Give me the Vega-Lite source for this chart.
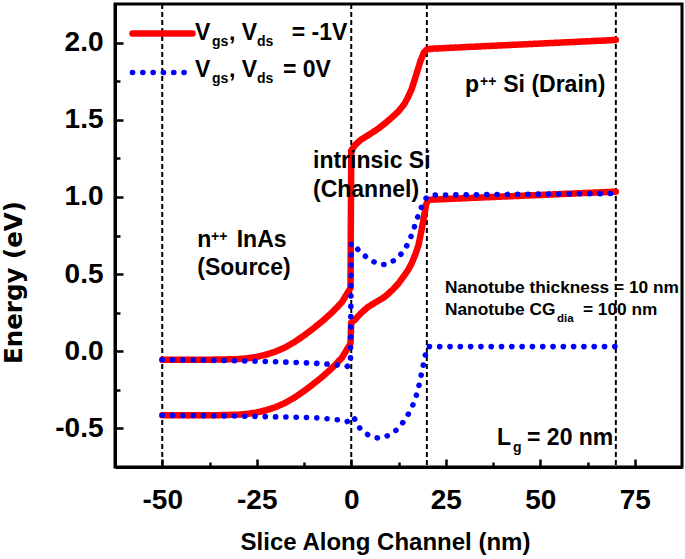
{
  "$schema": "https://vega.github.io/schema/vega-lite/v6.json",
  "width": 567,
  "height": 463,
  "autosize": "none",
  "padding": {"left": 115, "top": 4, "right": 3, "bottom": 92},
  "background": "white",
  "config": {
    "view": {"stroke": "black", "strokeWidth": 3},
    "font": "Liberation Sans",
    "axis": {
      "domainColor": "black", "domainWidth": 3, "tickColor": "black", "tickWidth": 2.5,
      "grid": false, "labelFont": "Liberation Sans", "labelFontWeight": "bold", "labelColor": "black",
      "titleFont": "Liberation Sans", "titleFontWeight": "bold", "titleColor": "black"
    },
    "text": {"font": "Liberation Sans", "fontWeight": "bold", "color": "black", "align": "left", "baseline": "alphabetic"}
  },
  "resolve": {"axis": {"x": "independent", "y": "independent"}},
  "layer": [
    {
      "data": {"values": [{"x": -50}, {"x": 0}, {"x": 20}, {"x": 70}]},
      "mark": {"type": "rule", "color": "black", "strokeWidth": 2, "strokeDash": [5, 3]},
      "encoding": {
        "x": {"field": "x", "type": "quantitative", "scale": {"domain": [-62.5, 87.5], "nice": false, "zero": false},
          "axis": {"orient": "bottom", "values": [-37.5, -12.5, 12.5, 37.5, 62.5], "labels": false, "domain": false, "tickSize": -5, "title": null}}
      }
    },
    {
      "data": {"values": [
        {"s": "-1V", "b": "c", "x": -50, "y": -0.055}, {"s": "-1V", "b": "c", "x": -40, "y": -0.055}, {"s": "-1V", "b": "c", "x": -35, "y": -0.054},
        {"s": "-1V", "b": "c", "x": -30, "y": -0.051}, {"s": "-1V", "b": "c", "x": -27.5, "y": -0.046}, {"s": "-1V", "b": "c", "x": -25, "y": -0.037},
        {"s": "-1V", "b": "c", "x": -22.5, "y": -0.022}, {"s": "-1V", "b": "c", "x": -20, "y": -0.002}, {"s": "-1V", "b": "c", "x": -17.5, "y": 0.025},
        {"s": "-1V", "b": "c", "x": -15, "y": 0.06}, {"s": "-1V", "b": "c", "x": -12.5, "y": 0.102}, {"s": "-1V", "b": "c", "x": -10, "y": 0.148},
        {"s": "-1V", "b": "c", "x": -7.5, "y": 0.198}, {"s": "-1V", "b": "c", "x": -5, "y": 0.253}, {"s": "-1V", "b": "c", "x": -2.5, "y": 0.317},
        {"s": "-1V", "b": "c", "x": -0.2, "y": 0.41}, {"s": "-1V", "b": "c", "x": 0, "y": 1.3},
        {"s": "-1V", "b": "c", "x": 1, "y": 1.336}, {"s": "-1V", "b": "c", "x": 2.5, "y": 1.37}, {"s": "-1V", "b": "c", "x": 4.5, "y": 1.4},
        {"s": "-1V", "b": "c", "x": 7, "y": 1.44}, {"s": "-1V", "b": "c", "x": 9, "y": 1.478}, {"s": "-1V", "b": "c", "x": 11, "y": 1.52},
        {"s": "-1V", "b": "c", "x": 12.5, "y": 1.555}, {"s": "-1V", "b": "c", "x": 14, "y": 1.6}, {"s": "-1V", "b": "c", "x": 15, "y": 1.645},
        {"s": "-1V", "b": "c", "x": 16, "y": 1.7}, {"s": "-1V", "b": "c", "x": 17.3, "y": 1.8}, {"s": "-1V", "b": "c", "x": 18.3, "y": 1.88},
        {"s": "-1V", "b": "c", "x": 19.2, "y": 1.935}, {"s": "-1V", "b": "c", "x": 20, "y": 1.955}, {"s": "-1V", "b": "c", "x": 21, "y": 1.96},
        {"s": "-1V", "b": "c", "x": 70, "y": 2.017},
        {"s": "-1V", "b": "v", "x": -50, "y": -0.415}, {"s": "-1V", "b": "v", "x": -40, "y": -0.415}, {"s": "-1V", "b": "v", "x": -35, "y": -0.414},
        {"s": "-1V", "b": "v", "x": -30, "y": -0.411}, {"s": "-1V", "b": "v", "x": -27.5, "y": -0.406}, {"s": "-1V", "b": "v", "x": -25, "y": -0.397},
        {"s": "-1V", "b": "v", "x": -22.5, "y": -0.382}, {"s": "-1V", "b": "v", "x": -20, "y": -0.362}, {"s": "-1V", "b": "v", "x": -17.5, "y": -0.335},
        {"s": "-1V", "b": "v", "x": -15, "y": -0.3}, {"s": "-1V", "b": "v", "x": -12.5, "y": -0.258}, {"s": "-1V", "b": "v", "x": -10, "y": -0.212},
        {"s": "-1V", "b": "v", "x": -7.5, "y": -0.162}, {"s": "-1V", "b": "v", "x": -5, "y": -0.107}, {"s": "-1V", "b": "v", "x": -2.5, "y": -0.043},
        {"s": "-1V", "b": "v", "x": -0.2, "y": 0.05}, {"s": "-1V", "b": "v", "x": 0, "y": 0.185},
        {"s": "-1V", "b": "v", "x": 1, "y": 0.205}, {"s": "-1V", "b": "v", "x": 2.5, "y": 0.245}, {"s": "-1V", "b": "v", "x": 4.5, "y": 0.288},
        {"s": "-1V", "b": "v", "x": 7, "y": 0.325}, {"s": "-1V", "b": "v", "x": 9, "y": 0.355}, {"s": "-1V", "b": "v", "x": 11, "y": 0.4},
        {"s": "-1V", "b": "v", "x": 12.5, "y": 0.44}, {"s": "-1V", "b": "v", "x": 14, "y": 0.49}, {"s": "-1V", "b": "v", "x": 15, "y": 0.525},
        {"s": "-1V", "b": "v", "x": 16, "y": 0.57}, {"s": "-1V", "b": "v", "x": 17, "y": 0.63}, {"s": "-1V", "b": "v", "x": 17.8, "y": 0.69},
        {"s": "-1V", "b": "v", "x": 18.6, "y": 0.785}, {"s": "-1V", "b": "v", "x": 19.3, "y": 0.88}, {"s": "-1V", "b": "v", "x": 19.8, "y": 0.95},
        {"s": "-1V", "b": "v", "x": 20.3, "y": 0.978}, {"s": "-1V", "b": "v", "x": 21, "y": 0.982}, {"s": "-1V", "b": "v", "x": 70, "y": 1.034},
        {"s": "0V", "b": "c", "x": -50, "y": -0.055}, {"s": "0V", "b": "c", "x": -40, "y": -0.057}, {"s": "0V", "b": "c", "x": -30, "y": -0.062},
        {"s": "0V", "b": "c", "x": -20, "y": -0.068}, {"s": "0V", "b": "c", "x": -10, "y": -0.077}, {"s": "0V", "b": "c", "x": -5, "y": -0.085},
        {"s": "0V", "b": "c", "x": -2.5, "y": -0.092}, {"s": "0V", "b": "c", "x": -1.2, "y": -0.1}, {"s": "0V", "b": "c", "x": -0.2, "y": -0.085},
        {"s": "0V", "b": "c", "x": 0, "y": 0.7}, {"s": "0V", "b": "c", "x": 1, "y": 0.68}, {"s": "0V", "b": "c", "x": 2.3, "y": 0.645},
        {"s": "0V", "b": "c", "x": 4.5, "y": 0.6}, {"s": "0V", "b": "c", "x": 6.7, "y": 0.57}, {"s": "0V", "b": "c", "x": 8.5, "y": 0.562},
        {"s": "0V", "b": "c", "x": 9.4, "y": 0.563}, {"s": "0V", "b": "c", "x": 11.6, "y": 0.592}, {"s": "0V", "b": "c", "x": 13.8, "y": 0.645},
        {"s": "0V", "b": "c", "x": 15.3, "y": 0.71}, {"s": "0V", "b": "c", "x": 16.5, "y": 0.79}, {"s": "0V", "b": "c", "x": 17.5, "y": 0.865},
        {"s": "0V", "b": "c", "x": 18.6, "y": 0.935}, {"s": "0V", "b": "c", "x": 19.4, "y": 0.975}, {"s": "0V", "b": "c", "x": 20, "y": 1.0},
        {"s": "0V", "b": "c", "x": 21, "y": 1.012}, {"s": "0V", "b": "c", "x": 70, "y": 1.022},
        {"s": "0V", "b": "v", "x": -50, "y": -0.415}, {"s": "0V", "b": "v", "x": -40, "y": -0.417}, {"s": "0V", "b": "v", "x": -30, "y": -0.42},
        {"s": "0V", "b": "v", "x": -20, "y": -0.425}, {"s": "0V", "b": "v", "x": -10, "y": -0.43}, {"s": "0V", "b": "v", "x": -5, "y": -0.44},
        {"s": "0V", "b": "v", "x": -2.5, "y": -0.448}, {"s": "0V", "b": "v", "x": -1.2, "y": -0.457}, {"s": "0V", "b": "v", "x": -0.2, "y": -0.445},
        {"s": "0V", "b": "v", "x": 0.5, "y": -0.425}, {"s": "0V", "b": "v", "x": 1.2, "y": -0.45}, {"s": "0V", "b": "v", "x": 2.3, "y": -0.5},
        {"s": "0V", "b": "v", "x": 4.5, "y": -0.543}, {"s": "0V", "b": "v", "x": 7, "y": -0.562}, {"s": "0V", "b": "v", "x": 9, "y": -0.556},
        {"s": "0V", "b": "v", "x": 12, "y": -0.51}, {"s": "0V", "b": "v", "x": 14.2, "y": -0.446}, {"s": "0V", "b": "v", "x": 15.5, "y": -0.39},
        {"s": "0V", "b": "v", "x": 16.9, "y": -0.316}, {"s": "0V", "b": "v", "x": 18, "y": -0.215}, {"s": "0V", "b": "v", "x": 18.6, "y": -0.143},
        {"s": "0V", "b": "v", "x": 19.4, "y": -0.05}, {"s": "0V", "b": "v", "x": 19.8, "y": 0.0}, {"s": "0V", "b": "v", "x": 20.3, "y": 0.03},
        {"s": "0V", "b": "v", "x": 21, "y": 0.03}, {"s": "0V", "b": "v", "x": 70, "y": 0.03}
      ]},
      "mark": {"type": "line", "strokeCap": "round", "strokeJoin": "round"},
      "encoding": {
        "x": {"field": "x", "type": "quantitative", "scale": {"domain": [-62.5, 87.5], "nice": false, "zero": false},
          "axis": {"orient": "bottom", "values": [-50, -25, 0, 25, 50, 75], "tickSize": -8, "labelPadding": 27, "labelFontSize": 28,
            "labelExpr": "replace(datum.label, '\u2212', '-')",
            "title": "Slice Along Channel (nm)", "titleFontSize": 24, "titleX": 270, "titleY": 82, "titleBaseline": "alphabetic"}},
        "y": {"field": "y", "type": "quantitative", "scale": {"domain": [-0.75, 2.25], "nice": false, "zero": false},
          "axis": {"orient": "left", "values": [-0.5, 0, 0.5, 1, 1.5, 2], "format": ".1f", "tickSize": -8, "labelPadding": 20, "labelFontSize": 28,
            "labelExpr": "replace(datum.label, '\u2212', '-')",
            "title": "Energy (eV)", "titleFont": "DejaVu Sans", "titleFontSize": 24.5, "titleX": -94, "titleY": 278, "titleBaseline": "alphabetic"}},
        "detail": {"field": "b"},
        "color": {"field": "s", "type": "nominal", "scale": {"domain": ["-1V", "0V"], "range": ["#ff0000", "#0000ff"]},
          "legend": {"orient": "none", "legendX": 14, "legendY": 10, "title": null, "symbolType": "stroke", "symbolSize": 3600,
            "labelExpr": "''", "clipHeight": 39, "rowPadding": 0, "padding": 0,
            "encode": {"symbols": {"update": {"strokeCap": {"value": "round"}, "strokeDash": {"signal": "datum.value === '0V' ? [0.1, 8.6] : [1, 0]"}}}}}},
        "strokeDash": {"field": "s", "type": "nominal", "scale": {"domain": ["-1V", "0V"], "range": [[1, 0], [0.1, 10.2]]}},
        "strokeWidth": {"field": "s", "type": "nominal", "scale": {"domain": ["-1V", "0V"], "range": [6.5, 5.6]}}
      }
    },
    {
      "data": {"values": [
        {"t": "intrinsic Si", "x": -10.12, "y": 1.187}, {"t": "(Channel)", "x": -10.12, "y": 1.0},
        {"t": "n", "x": -40.73, "y": 0.677}, {"t": "InAs", "x": -30.3, "y": 0.677}, {"t": "(Source)", "x": -40.73, "y": 0.494},
        {"t": "p", "x": 30.09, "y": 1.682}, {"t": "Si (Drain)", "x": 40.22, "y": 1.682},
        {"t": "L", "x": 38.56, "y": -0.607}, {"t": "= 20 nm", "x": 46.5, "y": -0.607},
        {"t": "V", "x": -41.34, "y": 2.017}, {"t": ", V", "x": -32.34, "y": 2.017}, {"t": "= -1V", "x": -15.75, "y": 2.017},
        {"t": "V", "x": -41.34, "y": 1.777}, {"t": ", V", "x": -32.34, "y": 1.777}, {"t": "= 0V", "x": -18.06, "y": 1.777}
      ]},
      "mark": {"type": "text", "fontSize": 23},
      "encoding": {
        "x": {"field": "x", "type": "quantitative", "axis": null},
        "y": {"field": "y", "type": "quantitative",
          "axis": {"orient": "left", "values": [-0.25, 0.25, 0.75, 1.25, 1.75], "labels": false, "domain": false, "tickSize": -5, "title": null}},
        "text": {"field": "t"}
      }
    },
    {
      "data": {"values": [
        {"t": "gs", "x": -36.84, "y": 1.978}, {"t": "ds", "x": -24.93, "y": 1.978},
        {"t": "gs", "x": -36.84, "y": 1.738}, {"t": "ds", "x": -24.93, "y": 1.738},
        {"t": "++", "x": -37.1, "y": 0.714}, {"t": "++", "x": 34.06, "y": 1.719}, {"t": "g", "x": 42.8, "y": -0.653}
      ]},
      "mark": {"type": "text", "fontSize": 14},
      "encoding": {
        "x": {"field": "x", "type": "quantitative", "axis": null},
        "y": {"field": "y", "type": "quantitative", "axis": null},
        "text": {"field": "t"}
      }
    },
    {
      "data": {"values": [
        {"t": "Nanotube thickness = 10 nm", "x": 24.8, "y": 0.375}, {"t": "Nanotube CG", "x": 24.8, "y": 0.235}, {"t": "= 100 nm", "x": 61.3, "y": 0.235}
      ]},
      "mark": {"type": "text", "fontSize": 17.3},
      "encoding": {
        "x": {"field": "x", "type": "quantitative", "axis": null},
        "y": {"field": "y", "type": "quantitative", "axis": null},
        "text": {"field": "t"}
      }
    },
    {
      "data": {"values": [{"t": "dia", "x": 54.43, "y": 0.191}]},
      "mark": {"type": "text", "fontSize": 11.5},
      "encoding": {
        "x": {"field": "x", "type": "quantitative", "axis": null},
        "y": {"field": "y", "type": "quantitative", "axis": null},
        "text": {"field": "t"}
      }
    }
  ]
}
